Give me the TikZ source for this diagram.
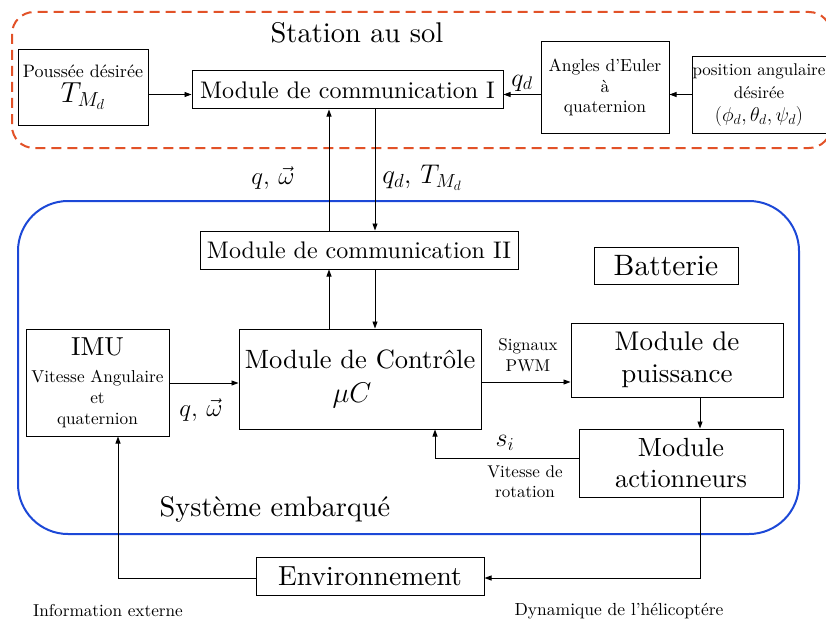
\RequirePackage{fix-cm}
\documentclass[tikz,border=0pt]{standalone}
\usepackage{fontspec}
\setmainfont{lmroman10}[Extension=.otf, UprightFont=*-regular, BoldFont=*-bold, ItalicFont=*-italic, BoldItalicFont=*-bolditalic]
\usetikzlibrary{arrows.meta}
\definecolor{stred}{RGB}{226,82,40}
\definecolor{embblue}{RGB}{28,72,215}
\newcommand{\fsz}[2]{\fontsize{#1}{#2}\selectfont}
\begin{document}
\begin{tikzpicture}[x=1pt,y=-1pt,
  box/.style={draw, line width=1pt, inner sep=0pt, align=center},
  arr/.style={-{Triangle[length=7pt,width=5pt]}, line width=0.9pt},
  lbl/.style={inner sep=0pt, align=center}]
\useasboundingbox (0,0) rectangle (826,623);
% groups
\draw[stred, line width=2pt, dash pattern=on 10pt off 6pt, rounded corners=22pt] (12,12) rectangle (831,148);
\draw[embblue, line width=2pt, rounded corners=50pt] (18,201) rectangle (799,534);
\node[lbl, font=\fsz{28.5}{30}] (station) at (357,33) {Station au sol};
\node[lbl, font=\fsz{28.3}{32}] (embarque) at (275,509) {Système embarqué};
% boxes
\node[box, minimum width=130pt, minimum height=75pt, font=\fsz{18}{24}] (pous) at (83,87.5)
  {Poussée désirée\\[1pt] {\fsz{29}{30}$T_{M_d}$}};
\node[box, minimum width=311pt, minimum height=38pt, font=\fsz{24}{28}] (comm1) at (347.5,90) {Module de communication I};
\node[box, minimum width=128pt, minimum height=91pt, font=\fsz{17.5}{20.5}] (euler) at (605,87.5)
  {Angles d’Euler\\à\\quaternion};
\node[box, minimum width=138pt, minimum height=76pt] (pos) at (761,95) {};
\node[lbl, font=\fsz{17}{23}] (postxt) at (759,95) {position angulaire\\désirée\\{\fsz{20}{23}$(\phi_d,\theta_d,\psi_d)$}};
\node[box, minimum width=318pt, minimum height=38pt, font=\fsz{24}{28}] (comm2) at (359,250) {Module de communication II};
\node[box, minimum width=144pt, minimum height=37pt, font=\fsz{29.5}{30}] (batt) at (666,265.5) {Batterie};
\node[box, minimum width=242pt, minimum height=100pt, font=\fsz{26.5}{34}] (ctrl) at (360,379)
  {Module de Contrôle\\{\fsz{28.5}{34}$\mu C$\hspace*{16pt}}};
\node[box, minimum width=143pt, minimum height=107pt, font=\fsz{17.2}{21}] (imu) at (97.5,382.5)
  {{\fsz{26}{21}IMU}\\[6pt]Vitesse Angulaire\\et\\quaternion};
\node[box, minimum width=212pt, minimum height=74pt, font=\fsz{27}{32}] (puis) at (677,360) {Module de\\puissance};
\node[box, minimum width=204pt, minimum height=68pt, font=\fsz{26.3}{31}] (act) at (681,463) {Module\\actionneurs};
\node[box, minimum width=228pt, minimum height=38pt, font=\fsz{27.6}{30}] (env) at (370,576) {Environnement};
% helper coordinates
\coordinate (yA) at (0,94.5);
\coordinate (xU) at (329,0);
\coordinate (xD) at (375,0);
\coordinate (yI) at (0,383);
\coordinate (yP) at (0,382);
\coordinate (xP) at (700,0);
\coordinate (yS) at (0,458);
\coordinate (xS) at (435,0);
\coordinate (yE) at (0,578);
\coordinate (xE) at (118,0);
% connectors
\draw[arr] (pous.east |- yA) -- (comm1.west |- yA);
\draw[arr] (pos.west |- yA) -- (euler.east |- yA);
\draw[arr] (euler.west |- yA) -- (comm1.east |- yA);
\draw[arr] (comm2.north -| xU) -- (comm1.south -| xU);
\draw[arr] (comm1.south -| xD) -- (comm2.north -| xD);
\draw[arr] (ctrl.north -| xU) -- (comm2.south -| xU);
\draw[arr] (comm2.south -| xD) -- (ctrl.north -| xD);
\draw[arr] (imu.east |- yI) -- (ctrl.west |- yI);
\draw[arr] (ctrl.east |- yP) -- (puis.west |- yP);
\draw[arr] (puis.south -| xP) -- (act.north -| xP);
\draw[arr] (act.west |- yS) -| (ctrl.south -| xS);
\draw[arr] (act.south -| xP) |- (env.east |- yE);
\draw[arr] (env.west |- yE) -| (imu.south -| xE);
% labels
\node[lbl, font=\fsz{25}{28}] (l1) at (273,178) {$q,\,\vec{\omega}$};
\node[lbl, font=\fsz{27}{28}] (l2) at (422,178) {$q_d,\,T_{M_d}$};
\node[lbl, font=\fsz{26}{28}] (l3) at (522,83) {$q_d$};
\node[lbl, font=\fsz{25}{28}] (l4) at (201,410) {$q,\,\vec{\omega}$};
\node[lbl, font=\fsz{26}{28}] (l5) at (505,443) {$s_i$};
\node[lbl, font=\fsz{17}{21}] (l6) at (528,355) {Signaux\\PWM};
\node[lbl, font=\fsz{17}{20}] (l7) at (525,482) {Vitesse de\\rotation};
\node[lbl, font=\fsz{17.2}{20}] (l8) at (108,611) {Information externe};
\node[lbl, font=\fsz{17.5}{20}] (l9) at (619,611) {Dynamique de l’hélicoptére};
\end{tikzpicture}
\end{document}
